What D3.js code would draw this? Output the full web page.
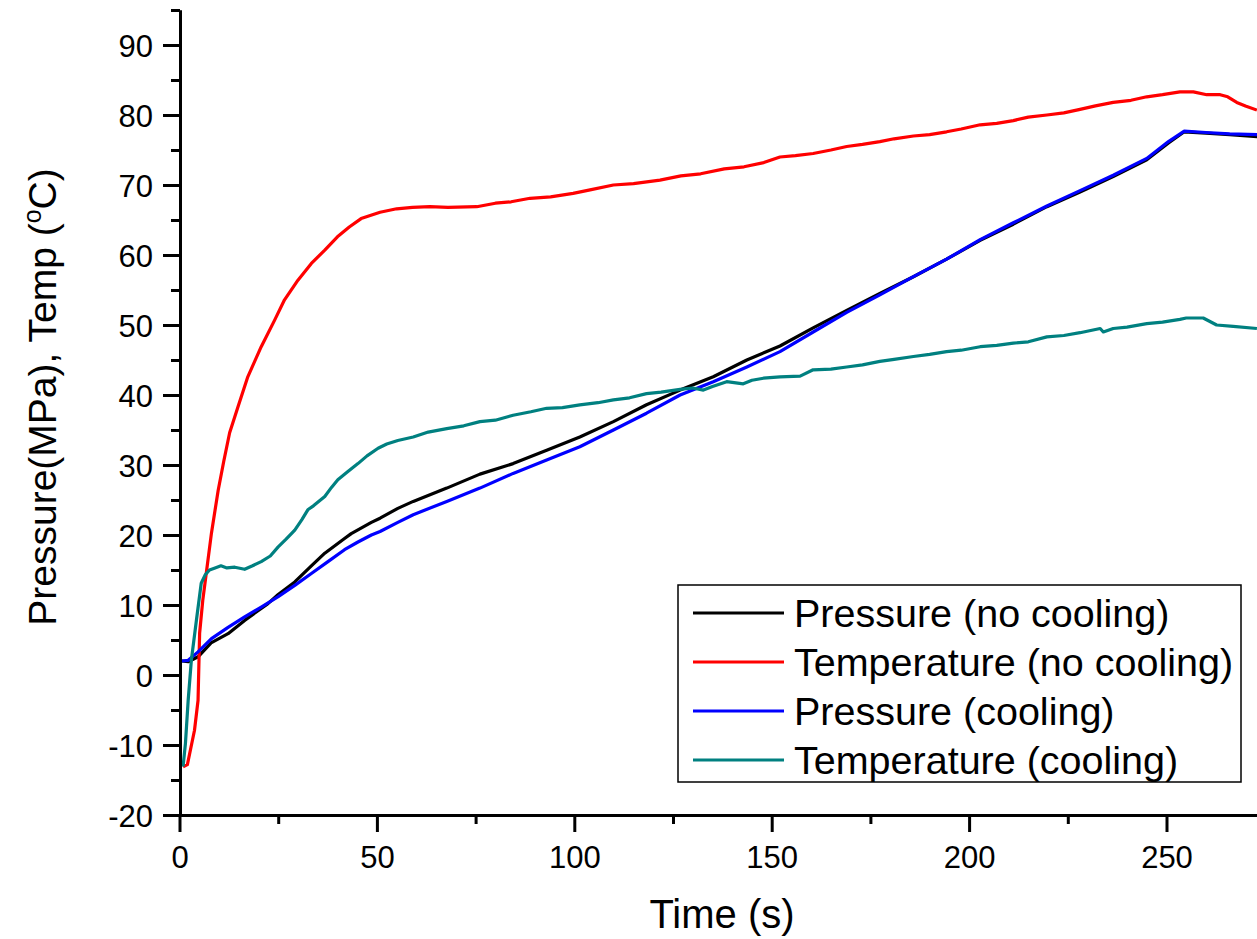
<!DOCTYPE html>
<html>
<head>
<meta charset="utf-8">
<script src="https://cdn.jsdelivr.net/npm/d3@7"></script>
<style>
  body { margin: 0; background: #fff; }
  svg { display: block; font-family: Arial, "Liberation Sans", sans-serif; }
</style>
</head>
<body>
<svg id="chart" width="1257" height="939"></svg>
<script>
// [time (s), value]
const pressureNoCooling = [
  [0.6, 2.0], [2.2, 1.9], [4.7, 2.6], [8, 4.6], [12.3, 5.9], [16.5, 7.8], [22.4, 10.2],
  [25, 11.5], [29.2, 13.3], [33.4, 15.6], [36.8, 17.4], [41.8, 19.5], [43.5, 20.2],
  [48.6, 21.8], [50.8, 22.4], [55.3, 23.8], [59.2, 24.8], [67.7, 26.7], [76.1, 28.7],
  [84.5, 30.2], [93, 32.1], [101.4, 34.0], [109.9, 36.2], [118.3, 38.6], [126.8, 40.7],
  [135.2, 42.6], [143.7, 45.0], [152.1, 47.0], [160.5, 49.6], [169, 52.1], [177.4, 54.5],
  [185.9, 56.9], [194.3, 59.4], [202.8, 62.1], [211.2, 64.4], [219.7, 66.9], [228.1, 69.0],
  [236.5, 71.2], [245, 73.6], [250.5, 76.0], [254.5, 77.6], [260, 77.4], [266, 77.2], [273, 76.9]
];
const tempNoCooling = [
  [0.9, -13.1], [2, -12.8], [3.8, -7.9], [4.7, -3.6], [5.1, 6.0], [5.9, 10.7], [7, 15.5],
  [8.1, 20.3], [9.8, 26.4], [11.2, 30.5], [12.7, 34.6], [14.8, 38.3], [17.3, 42.6],
  [20.7, 46.9], [24.1, 50.7], [26.6, 53.6], [30, 56.4], [33.4, 58.8], [36.8, 60.7],
  [40, 62.6], [43, 64.0], [46, 65.2], [50.8, 66.1], [55, 66.6], [59, 66.8], [63.4, 66.9],
  [68, 66.8], [75.3, 66.9], [80, 67.4], [84, 67.6], [88.8, 68.1], [94, 68.3], [99.7, 68.8],
  [104, 69.3], [109.9, 70.0], [115, 70.2], [121.7, 70.7], [127, 71.3], [132, 71.6],
  [138, 72.3], [143, 72.6], [148, 73.2], [152.1, 74.0], [156, 74.2], [160.5, 74.5],
  [165, 75.0], [169, 75.5], [173, 75.8], [177.4, 76.2], [181, 76.6], [185.9, 77.0],
  [190, 77.2], [194.3, 77.6], [198, 78.0], [202.8, 78.6], [207, 78.8], [211.2, 79.2],
  [215, 79.7], [219.7, 80.0], [224, 80.3], [228.1, 80.8], [232, 81.3], [236.5, 81.8],
  [241, 82.1], [245, 82.6], [249, 82.9], [253.4, 83.3], [256.8, 83.3], [260.2, 82.9],
  [263.6, 82.9], [265.5, 82.6], [267.8, 81.8], [270, 81.3], [272.9, 80.7]
];
const pressureCooling = [
  [0.6, 2.0], [2.2, 2.1], [4.7, 3.3], [8.1, 5.2], [12.3, 6.8], [16.5, 8.3], [20.7, 9.7],
  [25, 11.2], [29.2, 12.8], [33.4, 14.5], [37.6, 16.2], [41.8, 17.9], [45.2, 19.0],
  [48.6, 20.0], [50.8, 20.5], [55.3, 21.8], [59.2, 22.9], [67.7, 24.8], [76.1, 26.7],
  [84.5, 28.8], [93, 30.7], [101.4, 32.6], [109.9, 35.0], [118.3, 37.4], [126.8, 40.0],
  [135.2, 41.9], [143.7, 44.0], [152.1, 46.2], [160.5, 49.0], [169, 51.8], [177.4, 54.3],
  [185.9, 56.9], [194.3, 59.4], [202.8, 62.2], [211.2, 64.6], [219.7, 67.0], [228.1, 69.2],
  [236.5, 71.4], [245, 73.8], [250.5, 76.2], [254.5, 77.7], [260, 77.5], [266, 77.3], [273, 77.2]
];
const tempCooling = [
  [0.9, -13.1], [1.5, -9.8], [2.2, -3.6], [3, 2.1], [4.3, 7.9], [5.5, 13.1], [6.5, 14.3],
  [7.6, 15.0], [9, 15.3], [10.5, 15.6], [12, 15.3], [14, 15.4], [16.5, 15.1], [18.5, 15.6],
  [20.7, 16.2], [23, 17.0], [25, 18.3], [27, 19.4], [29.2, 20.7], [31, 22.2], [32.5, 23.6],
  [34, 24.2], [36.8, 25.5], [38.5, 26.8], [40.1, 27.9], [42.5, 29.0], [45.2, 30.2],
  [47.5, 31.3], [50.3, 32.4], [52.5, 33.0], [55.3, 33.5], [59.2, 34.0], [63, 34.7],
  [67.7, 35.2], [72, 35.6], [76.1, 36.2], [80, 36.4], [84.5, 37.1], [89, 37.6], [93, 38.1],
  [97, 38.2], [101.4, 38.6], [106, 38.9], [109.9, 39.3], [114, 39.6], [118.3, 40.2],
  [122, 40.4], [126.8, 40.8], [130, 41.0], [132.7, 40.7], [135, 41.2], [138.6, 41.9],
  [142.8, 41.6], [145, 42.1], [147.9, 42.4], [152.1, 42.6], [157.2, 42.7], [160.5, 43.6],
  [165, 43.7], [169, 44.0], [173, 44.3], [177.4, 44.8], [181, 45.1], [185.9, 45.5],
  [190, 45.8], [194.3, 46.2], [198, 46.4], [202.8, 46.9], [207, 47.1], [211.2, 47.4],
  [215, 47.6], [219.7, 48.3], [224, 48.5], [228.1, 48.9], [233.2, 49.5], [234, 49.0],
  [236.5, 49.5], [240, 49.7], [245, 50.2], [249, 50.4], [253.4, 50.8], [255, 51.0],
  [259.3, 51.0], [262.7, 50.0], [266.9, 49.8], [272.9, 49.5]
];

const seriesNames = ["Pressure (no cooling)", "Temperature (no cooling)", "Pressure (cooling)", "Temperature (cooling)"];
const seriesColors = ["#000000", "#ff0000", "#0000ff", "#008080"];
const seriesData = [pressureNoCooling, tempNoCooling, pressureCooling, tempCooling];

const xMajor = [0, 50, 100, 150, 200, 250];
const xMinor = [25, 75, 125, 175, 225];
const yMajor = [-20, -10, 0, 10, 20, 30, 40, 50, 60, 70, 80, 90];
const yMinor = [-15, -5, 5, 15, 25, 35, 45, 55, 65, 75, 85, 95];

const svg = d3.select("#chart");

const x = d3.scaleLinear().domain([0, 300]).range([179.5, 179.5 + 300 * 3.948]);
const y = d3.scaleLinear().domain([-20, 95]).range([815, 10]);

// curves
const line = d3.line().x(d => x(d[0])).y(d => y(d[1]));
seriesData.forEach((s, i) => {
  svg.append("path")
    .datum(s)
    .attr("fill", "none")
    .attr("stroke", seriesColors[i])
    .attr("stroke-width", 3.2)
    .attr("stroke-linejoin", "round")
    .attr("d", line);
});

// axes
function styleAxis(g) {
  g.select(".domain").attr("stroke", "#000").attr("stroke-width", 3);
  g.selectAll(".tick line").attr("stroke", "#000").attr("stroke-width", 3);
  g.selectAll(".tick text").attr("fill", "#000").attr("font-size", 31);
}
const plain = d => String(d);

const xAxisG = svg.append("g").attr("transform", "translate(0,815)");
xAxisG.call(d3.axisBottom(x).tickValues(xMinor).tickSize(9).tickSizeOuter(0).tickFormat(""));
xAxisG.call(styleAxis);
const xAxisMajor = svg.append("g").attr("transform", "translate(0,815)");
xAxisMajor.call(d3.axisBottom(x).tickValues(xMajor).tickSize(17).tickSizeOuter(0).tickFormat(plain));
xAxisMajor.call(styleAxis);
xAxisMajor.selectAll(".tick text").attr("y", 53).attr("dy", 0);

const yAxisG = svg.append("g").attr("transform", "translate(180,0)");
yAxisG.call(d3.axisLeft(y).tickValues(yMinor).tickSize(9).tickSizeOuter(0).tickFormat(""));
yAxisG.call(styleAxis);
const yAxisMajor = svg.append("g").attr("transform", "translate(180,0)");
yAxisMajor.call(d3.axisLeft(y).tickValues(yMajor).tickSize(17).tickSizeOuter(0).tickFormat(plain));
yAxisMajor.call(styleAxis);
yAxisMajor.selectAll(".tick text").attr("x", -27).attr("dy", "0.36em");

// axis titles
svg.append("text")
  .attr("x", 722).attr("y", 928)
  .attr("text-anchor", "middle")
  .attr("font-size", 40)
  .text("Time (s)");

const yTitle = svg.append("text")
  .attr("transform", "translate(56,397) rotate(-90)")
  .attr("text-anchor", "middle")
  .attr("font-size", 39);
yTitle.append("tspan").text("Pressure(MPa), Temp (");
yTitle.append("tspan").attr("font-size", 25).attr("dy", -15).text("o");
yTitle.append("tspan").attr("dy", 15).text("C)");

// legend
const legend = svg.append("g");
legend.append("rect")
  .attr("x", 678).attr("y", 585)
  .attr("width", 563).attr("height", 197)
  .attr("fill", "#fff")
  .attr("stroke", "#000")
  .attr("stroke-width", 1.5);
seriesNames.forEach((name, i) => {
  const cy = 613 + i * 49;
  legend.append("line")
    .attr("x1", 693).attr("x2", 784)
    .attr("y1", cy).attr("y2", cy)
    .attr("stroke", seriesColors[i])
    .attr("stroke-width", 3);
  legend.append("text")
    .attr("x", 794).attr("y", cy)
    .attr("dy", "0.36em")
    .attr("font-size", 39.5)
    .text(name);
});
</script>
</body>
</html>
